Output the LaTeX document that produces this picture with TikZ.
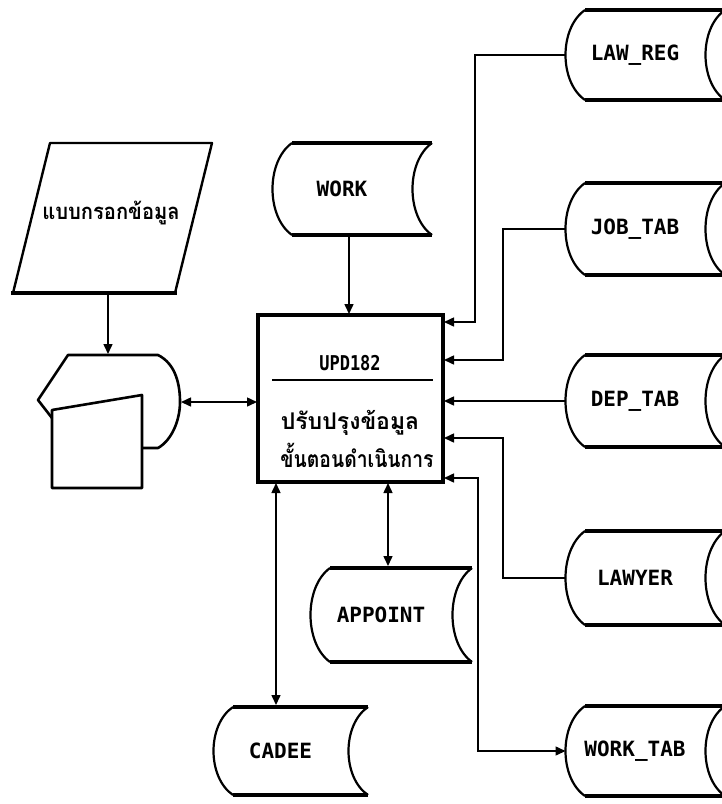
\documentclass[tikz,border=0pt]{standalone}
\usepackage{fontspec}
\newfontfamily\thaifont[Script=Thai]{Loma}
\newfontfamily\monofont{DejaVu Sans Mono}
\usetikzlibrary{arrows.meta}
\tikzset{
  conn/.style={line width=1.5pt},
  tipped/.style={-{Triangle[length=10pt,width=9pt]}},
  bitipped/.style={{Triangle[length=10pt,width=9pt]}-{Triangle[length=10pt,width=9pt]}},
  sdside/.style={line width=2.2pt, line join=round},
  sdedge/.style={line width=4pt},
  lbl/.style={font=\monofont\bfseries\fontsize{21}{21}\selectfont, inner sep=0pt},
  thailbl/.style={font=\thaifont\bfseries\fontsize{23}{23}\selectfont, inner sep=0pt},
  procbox/.style={draw, line width=3.5pt, minimum width=185pt, minimum height=167pt, inner sep=0pt}
}
\newcommand\StoredData[6]{%
  \draw[sdside] (#2,{#3+#5}) .. controls ({#2-26},{#3+0.8*#5}) and ({#2-26},{#3+0.2*#5}) .. (#2,#3)
    ({#2+#4},#3) .. controls ({#2+#4-26},{#3+0.2*#5}) and ({#2+#4-26},{#3+0.8*#5}) .. ({#2+#4},{#3+#5});
  \draw[sdedge] (#2,#3) -- ({#2+#4},#3) (#2,{#3+#5}) -- ({#2+#4},{#3+#5});
  \node[lbl] (#1) at ({#2+#4/2-20},{#3+#5/2}) {#6};
  \coordinate (#1-W) at ({#2-19.5},{#3+#5/2});
}
\begin{document}
\begin{tikzpicture}[x=1pt,y=-1pt]
\useasboundingbox (0,0) rectangle (722,804);
\clip (0,0) rectangle (722,804);
\fill[white] (0,0) rectangle (722,804);

% input form (parallelogram)
\draw[line width=2.4pt, line join=round] (13,293) -- (50,143) -- (212,143) -- (175,293);
\draw[line width=4.5pt] (11,293) -- (177,293);
\node[font=\thaifont\bfseries\fontsize{21}{21}\selectfont, inner sep=0pt] (form) at (111,213) {\scalebox{0.96}[1.05]{แบบกรอกข้อมูล}};
\coordinate (form-S) at (108,295);

% display symbol
\draw[line width=2.6pt, line join=round] (142,448) -- (158,448)
  .. controls (172,440) and (180,420) .. (180,402)
  .. controls (180,385) and (176,364) .. (158,355) -- (68,355) -- (38,400) -- (52,418);
\draw[line width=2.6pt, line join=round] (52,410) -- (142,395) -- (142,488) -- (52,488) -- cycle;
\coordinate (disp-N) at (108,354);
\coordinate (disp-E) at (181,402);

% process box
\node[procbox] (box) at (350.5,398.5) {};
\node[font=\monofont\bfseries\fontsize{17}{17}\selectfont, inner sep=0pt] (title) at (350,363) {\scalebox{1}[1.2]{UPD182}};
\draw[line width=2.2pt] (272,380) -- (433,380);
\node[thailbl] (th1) at (350,423) {ปรับปรุงข้อมูล};
\node[thailbl] (th2) at (357,455) {\scalebox{0.84}[1]{ขั้นตอนดำเนินการ}};
\coordinate (bW) at (257,402);
\coordinate (bN) at (349,314);
\coordinate (bS1) at (276,483);
\coordinate (bS2) at (388,483);
\coordinate (bE1) at (444,322);
\coordinate (bE2) at (444,360);
\coordinate (bE3) at (444,401);
\coordinate (bE4) at (444,438);
\coordinate (bE5) at (444,478);

% data stores
\StoredData{work}{292}{143}{140}{92}{WORK}
\StoredData{law}{585}{10}{140}{90}{LAW\_REG}
\StoredData{job}{585}{183}{140}{92}{JOB\_TAB}
\StoredData{dep}{585}{355}{140}{92}{DEP\_TAB}
\StoredData{lawyer}{585}{531}{140}{94}{LAWYER}
\StoredData{worktab}{585}{706}{140}{90}{WORK\_TAB}
\StoredData{appoint}{330}{568}{142}{94}{APPOINT}
\StoredData{cadee}{233}{707}{135}{88}{CADEE}
\coordinate (work-S) at (349,237);
\coordinate (appoint-N) at (388,566);
\coordinate (cadee-N) at (276,705);
\coordinate (j1) at (475,322);
\coordinate (j2) at (503,360);
\coordinate (j4) at (503,438);

% connectors
\draw[conn,tipped] (form-S) -- (disp-N);
\draw[conn,bitipped] (disp-E) -- (bW);
\draw[conn,tipped] (work-S) -- (bN);
\draw[conn,tipped] (law-W) -| (j1) -- (bE1);
\draw[conn,tipped] (job-W) -| (j2) -- (bE2);
\draw[conn,tipped] (dep-W) -- (bE3);
\draw[conn,tipped] (lawyer-W) -| (j4) -- (bE4);
\draw[conn,bitipped] (bE5) -| (478,751) -- (worktab-W);
\draw[conn,bitipped] (bS2) -- (appoint-N);
\draw[conn,bitipped] (bS1) -- (cadee-N);
\end{tikzpicture}
\end{document}
